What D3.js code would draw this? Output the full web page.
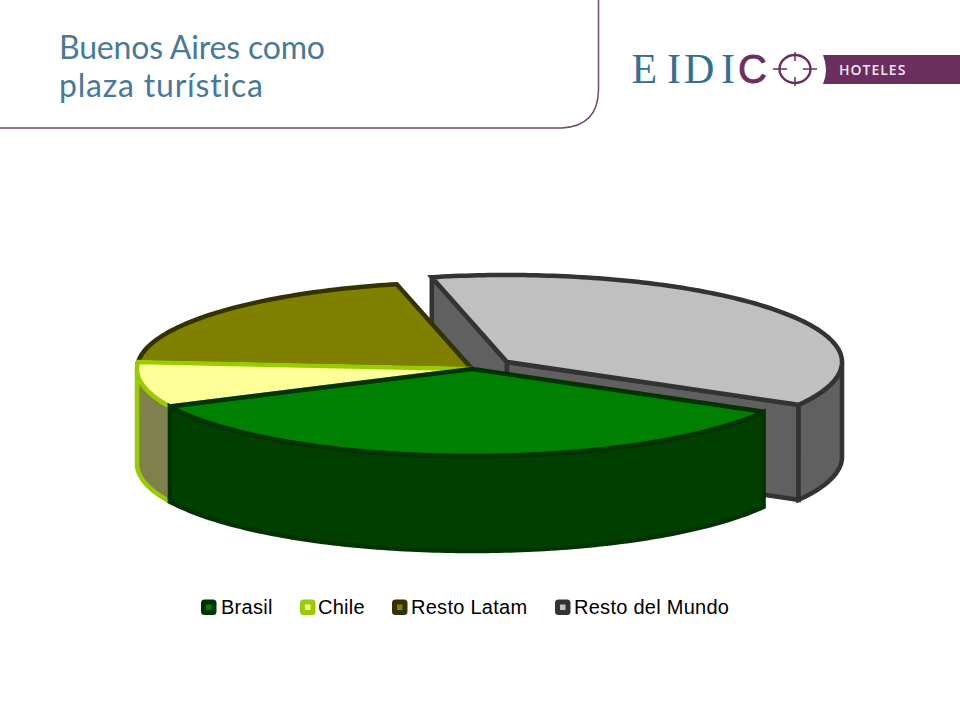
<!DOCTYPE html>
<html><head><meta charset="utf-8">
<script src="https://d3js.org/d3.v7.min.js"></script>
<style>html,body{margin:0;padding:0;background:#fff}svg{display:block}</style>
</head><body><svg id="c" width="960" height="720"></svg>
<script>
const categories = ["Brasil","Chile","Resto Latam","Resto del Mundo"];
const shares = [34.7,8.4,20.1,36.8];
const titleLines = ["Buenos Aires como","plaza turística"];

const topFill = d3.scaleOrdinal(categories,["#008000","#ffff99","#808000","#c0c0c0"]);
const wallFill = d3.scaleOrdinal(categories,["#003f00","#80804d","#404000","#606060"]);
const edge = d3.scaleOrdinal(categories,["#003300","#99cc00","#333300","#333333"]);
const legendSwatchX = d3.scaleOrdinal(categories,[201,300,392,555]);
const legendTextX = d3.scaleOrdinal(categories,[221,318,411,574]);
const offX = d3.scaleOrdinal(categories,[0,0,0,35]);
const offY = d3.scaleOrdinal(categories,[0,0,0,-7]);

const svg = d3.select("#c");
const cx=472, cy=369, rx=335, ry=87, depth=95, sw=4.5;
const rad = Math.PI/180;
const start = 119.5*rad;
const arcs = d3.pie().sort(null).startAngle(start).endAngle(start+2*Math.PI)
  .value((d,i)=>shares[i])(categories);
const byName = new Map(arcs.map(a=>[a.data,a]));
const line = d3.line();

function pt(name,a,dz=0){
  return [cx+offX(name)+rx*Math.sin(a), cy+offY(name)-ry*Math.cos(a)+dz];
}
function arcPts(name,a0,a1,dz=0){
  const n=Math.max(2,Math.ceil(Math.abs(a1-a0)/(1*rad)));
  return d3.range(n+1).map(i=>pt(name,a0+(a1-a0)*i/n,dz));
}
function centre(name,dz=0){return [cx+offX(name),cy+offY(name)+dz];}
function poly(name,pts,fill){
  svg.append("path").attr("d",line(pts)+"Z").attr("fill",fill)
    .attr("stroke",edge(name)).attr("stroke-width",sw)
    .attr("stroke-linejoin","miter").attr("stroke-miterlimit",2.5);
}
function cutWall(name,a){
  const p=pt(name,a),q=pt(name,a,depth);
  poly(name,[centre(name),p,q,centre(name,depth)],wallFill(name));
}
function outerWall(name,a0,a1){
  const top=arcPts(name,a0,a1), bot=arcPts(name,a1,a0,depth);
  poly(name,top.concat(bot),wallFill(name));
}
function topFace(name){
  const d=byName.get(name);
  poly(name,[centre(name)].concat(arcPts(name,d.startAngle,d.endAngle)),topFill(name));
}
function sector(name){
  const d=byName.get(name);
  const lo=Math.max(d.startAngle,Math.PI/2), hi=Math.min(d.endAngle,1.5*Math.PI);
  return {d,lo,hi};
}

/* exploded grey slice */
{
  const n="Resto del Mundo", d=byName.get(n);
  cutWall(n,d.startAngle);
  cutWall(n,d.endAngle);
  outerWall(n,Math.PI/2,d.endAngle-2*Math.PI);
  topFace(n);
}
/* back slices */
topFace("Resto Latam");
{
  const s=sector("Chile");
  outerWall("Chile",s.lo,s.hi);
  topFace("Chile");
}
{
  const s=sector("Brasil");
  outerWall("Brasil",s.lo,s.hi);
  topFace("Brasil");
}

/* legend */
const lg=svg.append("g").selectAll("g").data(categories).join("g");
lg.append("rect").attr("x",d=>legendSwatchX(d)+2.5).attr("y",602).attr("width",10.5).attr("height",10.5).attr("rx",1)
  .attr("fill",d=>topFill(d)).attr("stroke",d=>edge(d)).attr("stroke-width",5);
lg.append("text").attr("x",d=>legendTextX(d)).attr("y",613.5)
  .attr("font-family","Liberation Sans").attr("font-size",20).attr("letter-spacing",0.27).attr("fill","#000").text(d=>d);

/* header frame */
svg.append("path").attr("d","M0,128 L562,128 Q598,126 598.5,90 L598.5,0")
  .attr("fill","none").attr("stroke","#6d4a68").attr("stroke-width",1.5);
const titleWidths=[266,204];
svg.selectAll("text.t").data(titleLines).join("text").attr("class","t")
  .attr("x",59).attr("y",(d,i)=>58.5+i*38)
  .attr("font-family","Lato").attr("font-size",32).attr("fill","#47799b")
  .style("font-variant-ligatures","none")
  .attr("textLength",(d,i)=>titleWidths[i]).attr("lengthAdjust","spacing").text(d=>d);

/* logo */
const logo=svg.append("g");
const logoLetters=["E","I","D","I"];
const logoX=[631.5,667,684,721];
logo.selectAll("text.l").data(logoLetters).join("text").attr("class","l")
  .attr("x",(d,i)=>logoX[i]).attr("y",83).attr("font-family","Liberation Serif").attr("font-size",42)
  .attr("fill","#33708f").text(d=>d);
logo.append("text").attr("x",738).attr("y",83).attr("font-family","Liberation Sans").attr("font-size",40)
  .attr("fill","#6b2f5f").attr("stroke","#6b2f5f").attr("stroke-width",0.8).text("C");
logo.append("ellipse").attr("cx",795).attr("cy",69).attr("rx",15.5).attr("ry",14).attr("fill","none").attr("stroke","#6b2f5f").attr("stroke-width",2.4);
logo.append("path").attr("d","M773,69H787M803,69H817M795,52V61M795,77V86").attr("stroke","#6b2f5f").attr("stroke-width",1.5).attr("fill","none");
logo.append("path").attr("d","M823,55H960V84H823Q829,70 823,55Z").attr("fill","#6b2f5f");
logo.append("text").attr("x",839).attr("y",75).attr("font-family","Open Sans").attr("font-size",14).attr("font-weight",600)
  .attr("fill","#f2e8f0").attr("letter-spacing",1).text("HOTELES");
</script></body></html>
